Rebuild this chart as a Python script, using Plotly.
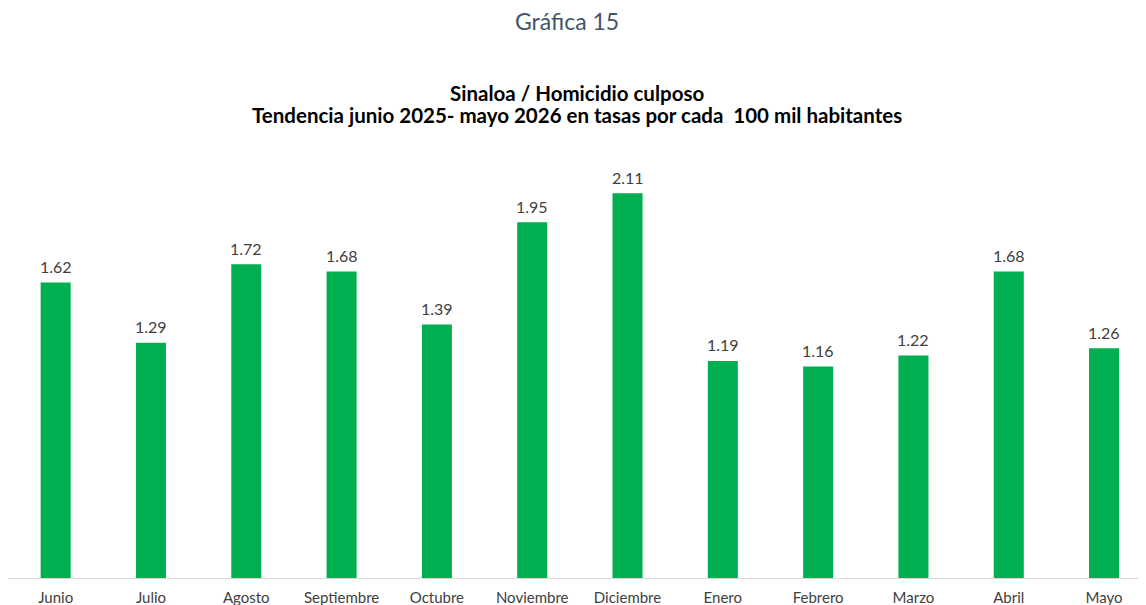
import plotly.graph_objects as go

meses = ["Junio", "Julio", "Agosto", "Septiembre", "Octubre", "Noviembre",
         "Diciembre", "Enero", "Febrero", "Marzo", "Abril", "Mayo"]
tasas = [1.62, 1.29, 1.72, 1.68, 1.39, 1.95, 2.11, 1.19, 1.16, 1.22, 1.68, 1.26]

VERDE = "#00b050"
GRIS_TEXTO = "#404040"

fig = go.Figure()
fig.add_bar(x=meses, y=tasas, marker=dict(color=VERDE, line=dict(width=0)))

# etiquetas de valor sobre cada barra
for mes, v in zip(meses, tasas):
    fig.add_annotation(x=mes, y=v, text=f"{v:.2f}", showarrow=False,
                       yanchor="middle", yshift=16,
                       font=dict(family="Lato", size=16, color=GRIS_TEXTO))

# titulo de la grafica y encabezado (la parte superior del area de trazado queda en y=122)
fig.add_annotation(text="Gráfica 15", xref="paper", yref="paper",
                   x=0.4912, y=1.0, yanchor="middle", yshift=122 - 21,
                   showarrow=False,
                   font=dict(family="Lato", size=23, color="#44546a"))
fig.add_annotation(text="<b>Sinaloa / Homicidio culposo</b>",
                   xref="paper", yref="paper", x=0.5, y=1.0,
                   yanchor="middle", yshift=122 - 93,
                   showarrow=False,
                   font=dict(family="Lato", size=20.5, color="#000000"))
fig.add_annotation(text="<b>Tendencia junio 2025- mayo 2026 en tasas por cada  100 mil habitantes</b>",
                   xref="paper", yref="paper", x=0.5, y=1.0,
                   yanchor="middle", yshift=122 - 115,
                   showarrow=False,
                   font=dict(family="Lato", size=20.5, color="#000000"))

fig.update_layout(
    width=1138, height=597,
    margin=dict(l=0, r=0, t=114, b=27),
    paper_bgcolor="white", plot_bgcolor="white",
    bargap=0.685,
    showlegend=False,
    xaxis=dict(range=[-0.5, 11.44], showline=True, linecolor="#d9d9d9",
               linewidth=1, ticks="", showgrid=False, ticklabelstandoff=6,
               tickfont=dict(family="Lato", size=15, color=GRIS_TEXTO)),
    yaxis=dict(range=[0, 2.5], visible=False, showgrid=False),
)

fig.write_html("out.html")
